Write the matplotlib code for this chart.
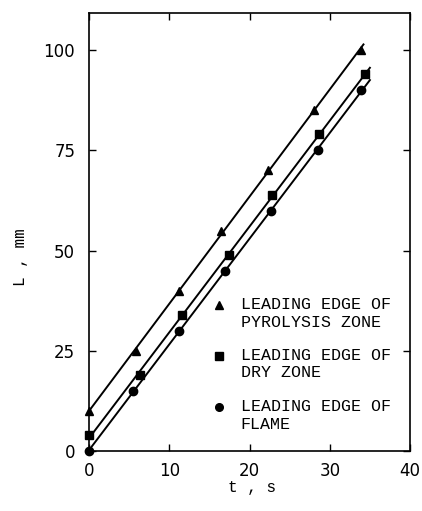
import numpy as np
import matplotlib
matplotlib.use("Agg")
import matplotlib.pyplot as plt

# Data
t_pyro = [0.0, 5.9, 11.2, 16.5, 22.3, 28.0, 33.9]
L_pyro = [10, 25, 40, 55, 70, 85, 100]
t_dry = [0.0, 6.4, 11.6, 17.5, 22.8, 28.7, 34.4]
L_dry = [4, 19, 34, 49, 64, 79, 94]
t_flame = [0.0, 5.5, 11.2, 17.0, 22.7, 28.5, 33.9]
L_flame = [0, 15, 30, 45, 60, 75, 90]
fit_end = [34.2, 35.0, 35.0]

labels = ["LEADING EDGE OF\nPYROLYSIS ZONE",
          "LEADING EDGE OF\nDRY ZONE",
          "LEADING EDGE OF\nFLAME"]
markers = ["^", "s", "o"]
xticks = [0, 10, 20, 30, 40]
yticks = [0, 25, 50, 75, 100]

fig = plt.figure(figsize=(4.22, 5.11), dpi=100)
ax = fig.add_axes([0.211, 0.1174, 0.7606, 0.8572])

series = [(t_pyro, L_pyro), (t_dry, L_dry), (t_flame, L_flame)]
for (t, L), m, te in zip(series, markers, fit_end):
    t = np.array(t); L = np.array(L)
    k, b = np.polyfit(t, L, 1)
    tt = np.array([0.0, te])
    ax.plot(tt, k * tt + b, color="black", lw=1.4, zorder=2)
    ax.plot(t, L, linestyle="none", marker=m, color="black",
            markersize=6, zorder=3, clip_on=False)

ax.set_xlim(0, 40)
ax.set_ylim(0, 109.3)
ax.set_xticks(xticks)
ax.set_yticks(yticks)
ax.tick_params(direction="in", length=5, width=1, top=True, right=True,
               labelsize=12, pad=8)
ax.tick_params(axis="y", pad=10)
for lab in ax.get_xticklabels() + ax.get_yticklabels():
    lab.set_family("DejaVu Sans")
for s in ax.spines.values():
    s.set_linewidth(1.2)

# legend drawn manually
mono = "Liberation Mono"
leg_y = [0.333, 0.217, 0.100]
for lab, m, y in zip(labels, markers, leg_y):
    ax.plot([0.405], [y], transform=ax.transAxes, marker=m,
            color="black", markersize=5.5, linestyle="none")
    ax.text(0.472, y + 0.018, lab, transform=ax.transAxes, family=mono,
            fontsize=12, va="top", ha="left", linespacing=1.2)

fig.text(0.597, 1 - 487 / 511, "t , s", family=mono, fontsize=11.5,
         ha="center", va="center")
fig.text(20 / 422, 1 - 257 / 511, "L , mm", family=mono, fontsize=11.5,
         ha="center", va="center", rotation=90)

fig.savefig("out.png", dpi=100)
